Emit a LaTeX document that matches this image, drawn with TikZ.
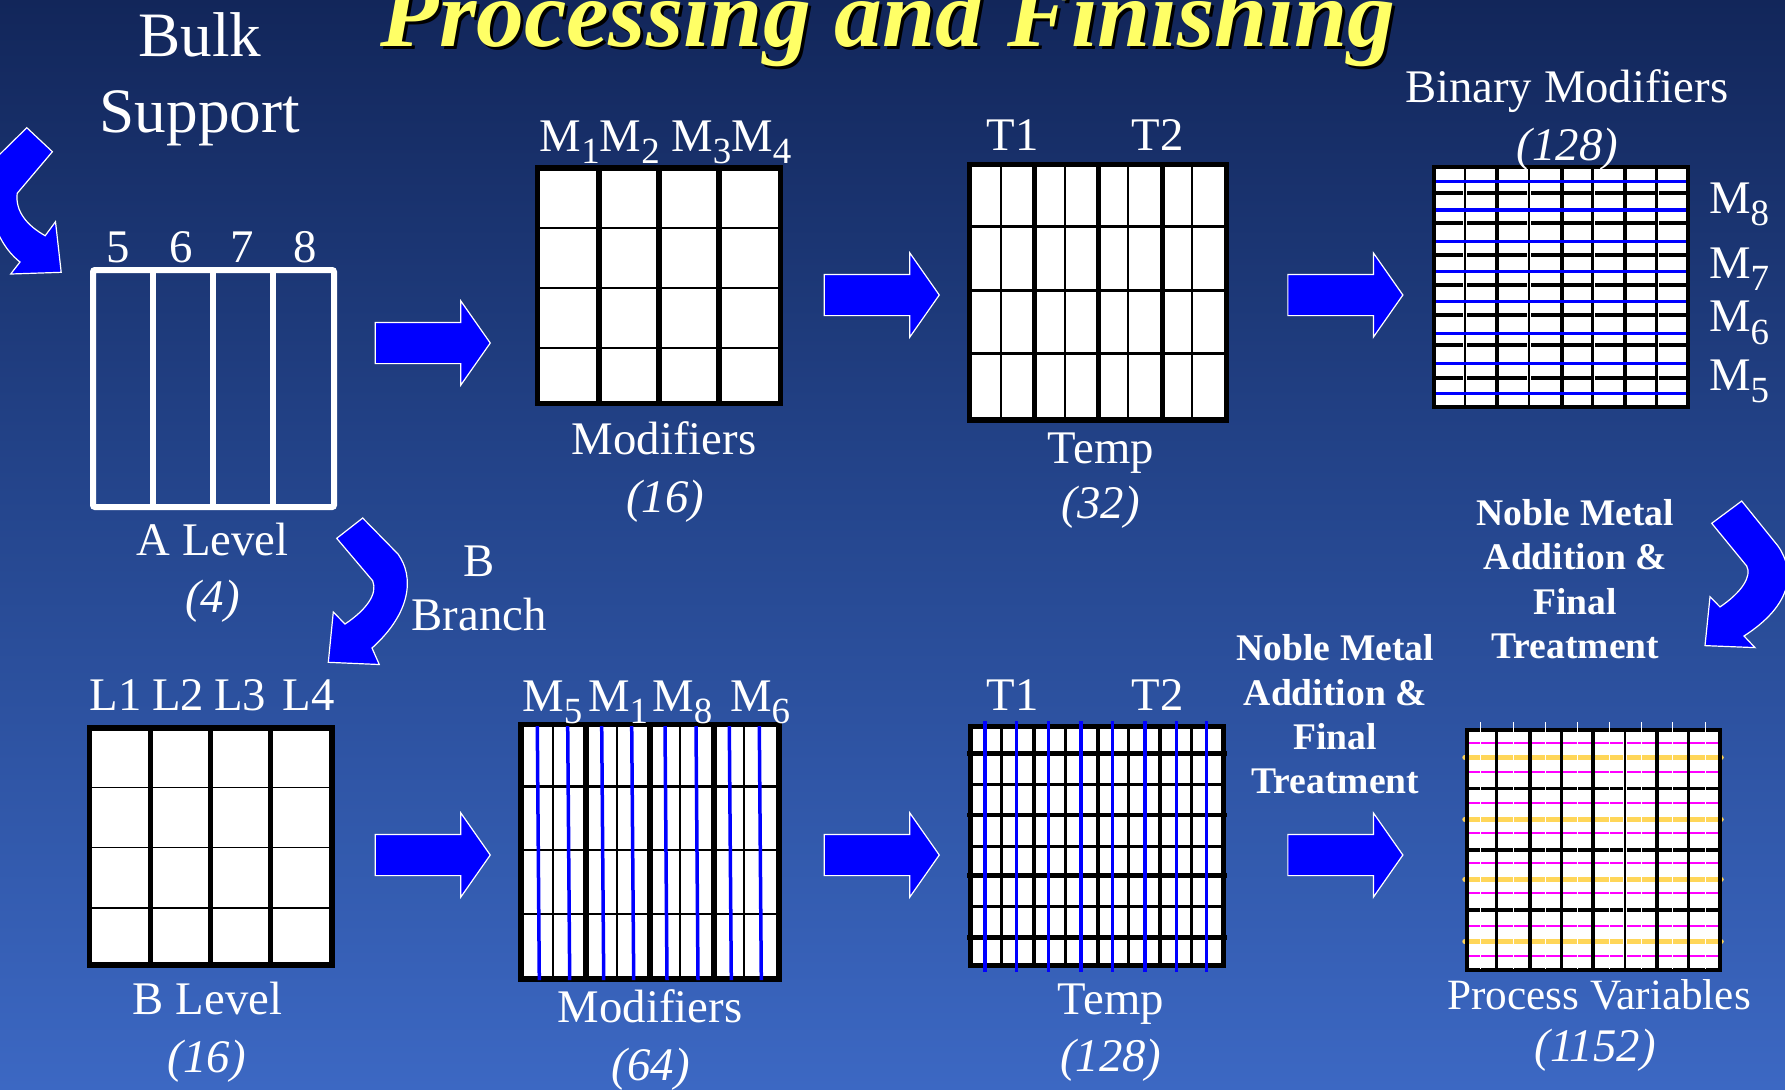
\documentclass[tikz,border=0pt]{standalone}
\usepackage{fontspec}
\setmainfont{Liberation Serif}
\usetikzlibrary{shapes.arrows}

\definecolor{giallo}{RGB}{255,255,102}
\definecolor{blu}{RGB}{0,0,255}
\definecolor{ocra}{RGB}{255,214,88}
\definecolor{viola}{RGB}{255,0,255}
\definecolor{bgA}{RGB}{3,8,32}
\definecolor{bgB}{RGB}{18,38,90}
\definecolor{bgC}{RGB}{38,72,145}
\definecolor{bgD}{RGB}{60,104,195}
\definecolor{bgE}{RGB}{76,126,222}
\pgfdeclareverticalshading{sfondo}{100bp}{color(0bp)=(bgE); color(25bp)=(bgD); color(50bp)=(bgC); color(75bp)=(bgB); color(100bp)=(bgA)}

\newcommand{\msub}[1]{M\raisebox{-3.6pt}{\fontsize{10.5}{12}\selectfont #1}}

\begin{document}
\begin{tikzpicture}[
    x=0.1mm, y=-0.1mm,
    lbl/.style={text=white, inner sep=0pt, anchor=base, font=\fontsize{13.3}{16}\selectfont},
    cnt/.style={lbl, font=\fontsize{13.3}{16}\selectfont\itshape},
    note/.style={text=white, inner sep=0pt, anchor=north, align=center, font=\fontsize{10.7}{12.6}\selectfont\bfseries},
    ttl/.style={inner sep=0pt, anchor=base, font=\fontsize{27.2}{30}\selectfont\bfseries\itshape},
    blk/.style={single arrow, fill=blu, draw=white, line width=0.12mm, inner xsep=0pt, inner ysep=2mm,
        minimum height=11.5mm, single arrow head extend=2.15mm, single arrow tip angle=110, anchor=tip},
    curv/.style={fill=blu, draw=white, line width=0.12mm},
    wbox/.style={draw=white, line width=0.6mm},
    nerobox/.style={draw=black, fill=white, line width=0.55mm},
    fine/.style={draw=black, line width=0.18mm},
    medio/.style={draw=black, line width=0.3mm},
    spesso/.style={draw=black, line width=0.55mm},
    bluline/.style={draw=blu, line width=0.35mm},
    gap/.style={draw=white, line width=0.4mm}
]
\useasboundingbox (0,0) rectangle (1785,1089);
\shade[shading=sfondo] (0,0) rectangle (1785,1089);

% Titolo con ombra
\node[ttl, text=black] (ombra) at (891,49) {Processing and Finishing};
\node[ttl, text=giallo] (titolo) at (888,46) {Processing and Finishing};
\node[lbl, anchor=north, align=center, font=\fontsize{18}{21.5}\selectfont] (bulk) at (200,12) {Bulk\\Support};

% Frecce curve
\filldraw[curv] (26.8,127.7) -- (52.4,151.7) -- (17.2,193.3) .. controls (15,212) and (28,226) .. (45.2,235.7)
    -- (55.5,221.7) -- (61.2,272.3) -- (10.7,274) -- (20,262) .. controls (-8,240) and (-18,195) .. (-4,158) -- cycle;
\filldraw[curv] (336.7,538.3) -- (362.7,518) -- (398,554) .. controls (414,576) and (412,612) .. (372,648)
    -- (379.3,664.5) -- (328.3,662.3) -- (333.3,612) -- (345,624) .. controls (366,610) and (378,594) .. (372.7,580.8) -- cycle;
\filldraw[curv] (1711.7,523.3) -- (1741.7,501) -- (1778,546) .. controls (1796,572) and (1792,605) .. (1744,636)
    -- (1755,647.6) -- (1705,645.6) -- (1710,596.7) -- (1720,606.9) .. controls (1742,592) and (1752,576) .. (1746.7,566) -- cycle;

% Livello A (4)
\draw[wbox, rounded corners=0.2mm] (93,270) rectangle (334,507);
\foreach \x in {153.3,213.3,273.3} \draw[wbox] (\x,270) -- (\x,507);
\foreach \x/\n in {117.7/5,180.8/6,242/7,305/8} \node[lbl] (c\n) at (\x,262.3) {\n};
\node[lbl] (alev) at (212.5,555.6) {A Level};
\node[cnt] (anum) at (212.5,612.7) {(4)};
\node[lbl, anchor=north, align=center, font=\fontsize{13.3}{15.4}\selectfont] (branch) at (479,545) {B\\Branch};

% Livello B (16)
\draw[nerobox] (89.5,728) rectangle (332,965);
\foreach \y in {787.4,847.5,907.6} \draw[fine] (89.5,\y) -- (332,\y);
\foreach \x in {150.7,210.7,270.7} \draw[spesso] (\x,728) -- (\x,965);
\foreach \x/\n in {115.8/1,178/2,240/3,308.8/4} \node[lbl] (l\n) at (\x,710.4) {L\n};
\node[lbl] (blev) at (207.5,1014.6) {B Level};
\node[cnt] (bnum) at (206.7,1072) {(16)};

% Modificatori (16)
\draw[nerobox] (537.5,168) rectangle (780.5,403.5);
\foreach \y in {227.7,287.7,347.7} \draw[fine] (537.5,\y) -- (780.5,\y);
\foreach \x in {599,659,719} \draw[spesso] (\x,168) -- (\x,403.5);
\node[lbl, anchor=base west] (m16) at (539,151) {\msub{1}\msub{2} \msub{3}\msub{4}};
\node[lbl] (mod16) at (664,454) {Modifiers};
\node[cnt] (n16) at (665,512) {(16)};

% Temperature (32)
\draw[nerobox] (969.5,164.5) rectangle (1226.5,420);
\foreach \y in {226,290.7,353.3} \draw[medio] (969.5,\y) -- (1226.5,\y);
\foreach \x in {1001,1065,1128.3,1191.7} \draw[fine] (\x,164.5) -- (\x,420);
\foreach \x in {1034.3,1098.3,1162.7} \draw[spesso] (\x,164.5) -- (\x,420);
\node[lbl] (t1a) at (1012.5,150.7) {T1};
\node[lbl] (t2a) at (1157.5,150.7) {T2};
\node[lbl] (temp32) at (1100.8,463) {Temp};
\node[cnt] (n32) at (1100.8,518) {(32)};

% Modificatori binari (128)
\fill[white] (1433.5,167) rectangle (1688,406.5);
\foreach \y in {193.3,223.3,255,285,315,345,378.3} \draw[medio, line width=0.4mm] (1433.5,\y) -- (1688,\y);
\foreach \x in {1465,1496.7,1529,1561.7,1592.7,1625,1656.7} \draw[gap] (\x,167) -- (\x,406.5);
\foreach \x in {1465,1529,1592.7,1656.7} \draw[fine, line width=0.25mm] (\x,167) -- (\x,406.5);
\foreach \x in {1496.7,1561.7,1625} \draw[medio, line width=0.4mm] (\x,167) -- (\x,406.5);
\foreach \y in {181.7,210,241.7,271.7,301.7,333.3,363.3,393.3} \draw[bluline] (1434,\y) -- (1687,\y);
\draw[medio, line width=0.4mm] (1433.5,167) rectangle (1688,406.5);
\node[lbl] (bin) at (1566.7,102.3) {Binary Modifiers};
\node[cnt] (n128a) at (1567.5,160) {(128)};
\foreach \y/\n in {213.3/8,278.3/7,331.7/6,390/5} \node[lbl, anchor=base west] (mr\n) at (1708.3,\y) {\msub{\n}};

% Modificatori (64)
\draw[nerobox] (521,724.5) rectangle (779,979);
\foreach \y in {786.7,850,914} \draw[medio, line width=0.25mm] (521,\y) -- (779,\y);
\foreach \x in {552.7,616.7,680,744.3} \draw[fine] (\x,724.5) -- (\x,979);
\foreach \x in {586,650,714} \draw[spesso] (\x,724.5) -- (\x,979);
\foreach \x in {537.3,567.7,601.7,631.7,665,696,729.3,759.3} \draw[bluline] (\x,726) -- (\x+2,980);
\foreach \x/\n in {521.7/5,587.3/1,651.7/8,729.3/6} \node[lbl, anchor=base west] (mb\n) at (\x,711) {\msub{\n}};
\node[lbl] (mod64) at (650,1022.3) {Modifiers};
\node[cnt] (n64) at (650.8,1080) {(64)};

% Temperature (128)
\draw[nerobox, line width=0.5mm] (970.5,726.5) rectangle (1223.5,965);
\foreach \y in {784.3,846.7,906.7} \draw[medio] (970.5,\y) -- (1223.5,\y);
\foreach \y in {753.3,815,875.7,937.3} \draw[spesso, line width=0.45mm] (967,\y) -- (1227,\y);
\foreach \x in {1001,1065,1128.3,1191.7} \draw[medio] (\x,726.5) -- (\x,965);
\foreach \x in {1034,1098.3,1160} \draw[medio, line width=0.4mm] (\x,726.5) -- (\x,965);
\foreach \x in {985,1016.7,1048.3,1081,1112.7,1145,1176.7,1206.7} \draw[bluline] (\x,721) -- (\x,971.7);
\node[lbl] (t1b) at (1012.5,710.7) {T1};
\node[lbl] (t2b) at (1157.5,710.7) {T2};
\node[lbl] (temp128) at (1110.8,1014) {Temp};
\node[cnt] (n128b) at (1110.8,1071.7) {(128)};

% Variabili di processo (1152)
\fill[white] (1467,730.3) rectangle (1719.7,969.7);
\foreach \y in {788.3,850,910} \draw[medio, line width=0.35mm] (1467,\y) -- (1719.7,\y);
\foreach \y in {742.7,771.7,803.3,833.3,863.3,893.3,925.7,955.7} \draw[viola, line width=0.17mm] (1469,\y) -- (1721,\y);
\foreach \y in {757.3,819.3,879.3,941.7} \draw[ocra, line width=0.55mm, line cap=round] (1465,\y) -- (1721,\y);
\foreach \x in {1496.7,1530,1561.7,1593.3,1625,1656.7,1688.3} \draw[gap, line width=0.35mm] (\x,730.3) -- (\x,969.7);
\foreach \x in {1496.7,1561.7,1625,1688.3} \draw[fine, line width=0.25mm] (\x,730.3) -- (\x,969.7);
\foreach \x in {1530,1593.3,1656.7} \draw[medio, line width=0.4mm] (\x,730.3) -- (\x,969.7);
\draw[medio, line width=0.4mm] (1467,730.3) rectangle (1719.7,969.7);
\foreach \x in {1480.7,1513,1545,1577,1609,1641,1672.5,1705} \draw[white, line width=0.1mm] (\x,722) -- (\x,969);
\node[lbl, font=\fontsize{12.3}{15}\selectfont] (pv) at (1599,1009) {Process Variables};
\node[cnt] (n1152) at (1595,1061) {(1152)};

% Frecce di passaggio
\node[blk] (fr1) at (491,343) {};
\node[blk] (fr2) at (940,295) {};
\node[blk] (fr3) at (1403.6,295) {};
\node[blk] (fr4) at (491,855) {};
\node[blk] (fr5) at (940,855) {};
\node[blk] (fr6) at (1403.6,855) {};

% Note sul trattamento finale
\node[note] (noble1) at (1575.3,498.7) {Noble Metal\\Addition \&\\Final\\Treatment};
\node[note] (noble2) at (1335.3,634) {Noble Metal\\Addition \&\\Final\\Treatment};
\end{tikzpicture}
\end{document}
